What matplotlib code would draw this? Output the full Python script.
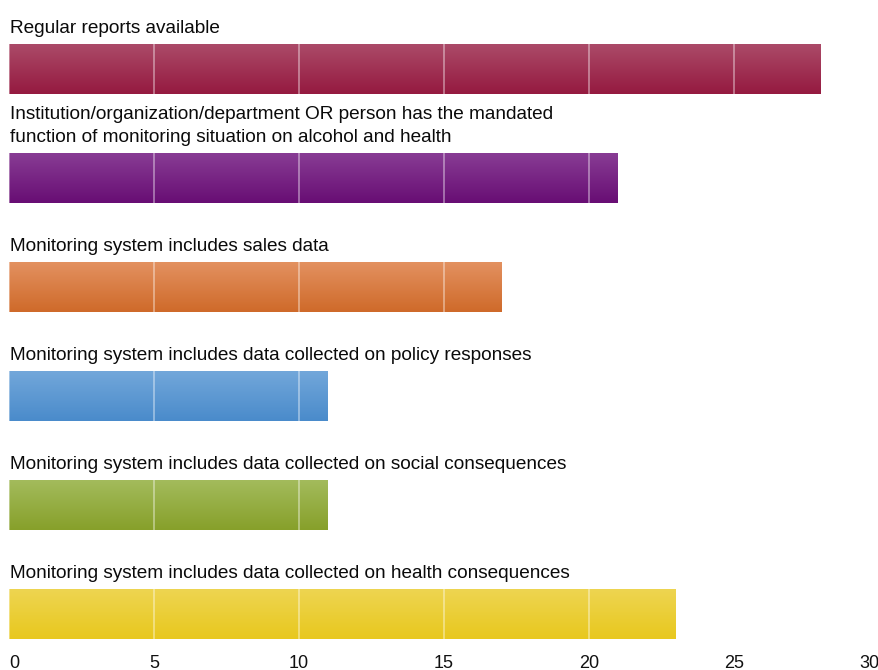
import numpy as np
import matplotlib.pyplot as plt
from matplotlib.colors import to_rgb

labels = [
    "Regular reports available",
    "Institution/organization/department OR person has the mandated\nfunction of monitoring situation on alcohol and health",
    "Monitoring system includes sales data",
    "Monitoring system includes data collected on policy responses",
    "Monitoring system includes data collected on social consequences",
    "Monitoring system includes data collected on health consequences",
]
counts = [28, 21, 17, 11, 11, 23]
# (top, bottom) colour of each bar's vertical gradient
shades = [
    ("#ab4a68", "#951a40"),
    ("#883c94", "#680e74"),
    ("#e39160", "#cf6a2a"),
    ("#72a7da", "#4a8bcb"),
    ("#a3bb5c", "#87a02a"),
    ("#eed552", "#e8c81e"),
]
ticks = [0, 5, 10, 15, 20, 25, 30]

plt.rcParams["font.family"] = ["Liberation Sans", "DejaVu Sans"]

fig = plt.figure(figsize=(8.79, 6.70), dpi=100)
ax = fig.add_axes([9 / 879, 25 / 670, 870 / 879, 645 / 670])

bar_h = 50 / 109
ypos = np.arange(len(counts))
bars = ax.barh(ypos, counts, height=bar_h, color="none", edgecolor="none", zorder=1)

for bar, (top, bottom) in zip(bars, shades):
    c0 = np.array(to_rgb(top))
    c1 = np.array(to_rgb(bottom))
    t = np.linspace(0, 1, 64)[:, None, None]
    grad = c0 + (c1 - c0) * t
    x0, y0 = bar.get_x(), bar.get_y()
    im = ax.imshow(grad, extent=(x0, x0 + bar.get_width(), y0 + bar.get_height(), y0),
                   aspect="auto", interpolation="bilinear", zorder=1)
    im.set_clip_path(bar)

for x in ticks[:-1]:
    ax.axvline(x, color="white", alpha=0.45, lw=1.2, zorder=2)

for y, text in zip(ypos, labels):
    ax.annotate(text, (0, y - bar_h / 2), xytext=(1, 5), textcoords="offset points",
                ha="left", va="bottom", fontsize=13.7, color="#0a0a0a", linespacing=1.48)

ax.set_xlim(0, 30)
ax.set_ylim(ypos[-1] + (645 - 69) / 109 - 5, -69 / 109)
ax.set_xticks(ticks)
ax.set_xticklabels([str(t) for t in ticks], fontsize=13, color="#111111")
tl = ax.get_xticklabels()
tl[0].set_ha("left")
tl[-1].set_ha("right")
ax.tick_params(axis="x", length=0, pad=7)
ax.set_yticks([])
for s in ax.spines.values():
    s.set_visible(False)

fig.savefig("out.png", dpi=100)
